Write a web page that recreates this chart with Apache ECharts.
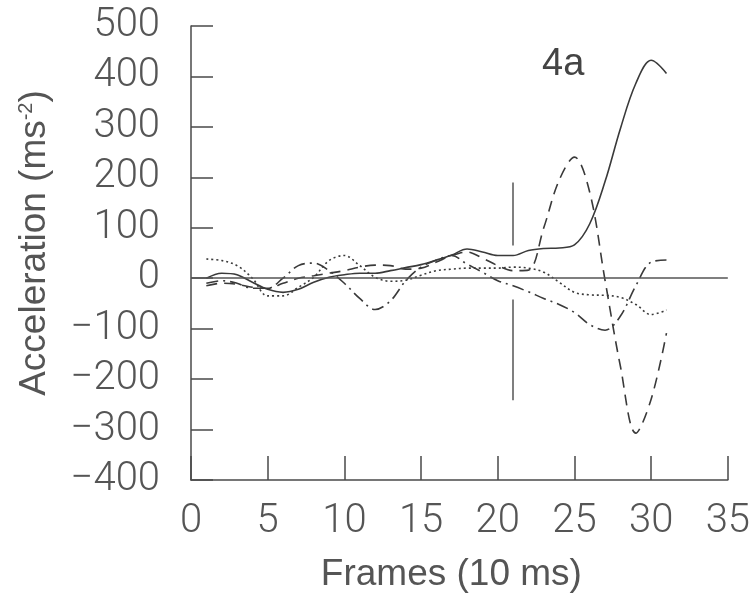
<!DOCTYPE html>
<html>
<head>
<meta charset="utf-8">
<script src="https://cdn.jsdelivr.net/npm/echarts@6/dist/echarts.min.js"></script>
<style>
html,body{margin:0;padding:0;background:#fff;}
#chart{width:753px;height:601px;}
</style>
</head>
<body>
<div id="chart"></div>
<script>
// ---- data ----
const frames = [1,2,3,4,5,6,7,8,9,10,11,12,13,14,15,16,17,18,19,20,21,22,23,24,25,26,27,28,29,30,31];
const solidSeries   = [0,10,7,-8,-22,-28,-22,-8,2,7,10,10,15,21,27,36,46,58,52,45,45,55,59,60,66,108,192,297,386,432,406];
const dashedSeries  = [-15,-10,-12,-18,-20,-10,0,5,10,15,22,26,25,18,20,32,45,52,40,25,15,16,100,194,240,170,-5,-175,-307,-240,-109];
const dashDotSeries = [-10,-5,-10,-20,-20,0,25,30,15,-10,-40,-62,-45,-5,22,36,45,28,12,-5,-15,-27,-40,-52,-68,-92,-103,-75,-15,32,36];
const dottedSeries  = [38,35,25,0,-35,-35,-18,2,35,45,25,2,-6,-4,6,15,18,20,20,20,22,20,12,-8,-28,-33,-34,-38,-52,-72,-63];
const markerFrame = 21;
const markerSegments = [[190, 65], [-42, -242]];
const xTicks = [0, 5, 10, 15, 20, 25, 30, 35];
const yTicks = [-400, -300, -200, -100, 0, 100, 200, 300, 400, 500];
const panelLabel = '4a';

const pairs = (ys) => frames.map((f, i) => [f, ys[i]]);
const lineCol = '#3a3a3a';
const axisCol = '#4a4a4a';

const chart = echarts.init(document.getElementById('chart'), null, {renderer: 'canvas'});
const mkSeries = (name, ys, type) => ({
  name, type: 'line', data: pairs(ys), symbol: 'none', smooth: 0.35,
  lineStyle: {color: lineCol, width: 1.6, type: type}, z: 3
});

chart.setOption({
  backgroundColor: '#ffffff',
  animation: false,
  title: {
    text: panelLabel, left: 537, top: 41,
    textStyle: {fontFamily: 'Liberation Sans', fontSize: 38, fontWeight: 'normal', color: '#444'}
  },
  grid: {left: 191, top: 26, right: 24, bottom: 121},
  xAxis: {
    type: 'value', min: xTicks[0], max: xTicks[xTicks.length - 1], interval: 5,
    name: 'Frames (10 ms)', nameLocation: 'middle', nameGap: 76,
    nameTextStyle: {fontFamily: 'Liberation Sans', fontSize: 37, color: '#555', padding: [0, 16, 0, 0]},
    axisLine: {show: true, onZero: false, lineStyle: {color: axisCol, width: 1.5}},
    axisTick: {show: true, inside: true, length: 24, lineStyle: {color: axisCol, width: 1.5}},
    axisLabel: {margin: 22, fontFamily: 'Roboto', fontWeight: 300, fontSize: 40, color: '#555'},
    splitLine: {show: false}
  },
  yAxis: {
    type: 'value', min: yTicks[0], max: yTicks[yTicks.length - 1], interval: 100,
    name: '{t|Acceleration (ms}{s|-2}{t|)}', nameLocation: 'middle', nameGap: 138, nameRotate: 90,
    nameTextStyle: {
      padding: [0, 0, 0, 20],
      rich: {
        t: {fontFamily: 'Liberation Sans', fontSize: 37, color: '#555'},
        s: {fontFamily: 'Liberation Sans', fontSize: 20, color: '#555', padding: [0, 0, 16, 0]}
      }
    },
    axisLine: {show: true, onZero: false, lineStyle: {color: axisCol, width: 1.5}},
    axisTick: {show: true, inside: true, length: 22, lineStyle: {color: axisCol, width: 1.5}},
    axisLabel: {
      margin: 31, fontFamily: 'Roboto', fontWeight: 300, fontSize: 40, color: '#555',
      formatter: (v) => String(v).replace('-', '\u2212')
    },
    splitLine: {show: false}
  },
  series: [
    Object.assign(mkSeries('solid', solidSeries, 'solid'), {
      markLine: {
        silent: true, symbol: 'none', label: {show: false},
        lineStyle: {color: '#555', width: 1.5, type: 'solid'},
        data: [
          {yAxis: 0},
          [{coord: [markerFrame, markerSegments[0][0]]}, {coord: [markerFrame, markerSegments[0][1]]}],
          [{coord: [markerFrame, markerSegments[1][0]]}, {coord: [markerFrame, markerSegments[1][1]]}]
        ]
      }
    }),
    mkSeries('dashed', dashedSeries, [11, 7]),
    mkSeries('dashdot', dashDotSeries, [12, 5, 2, 5]),
    mkSeries('dotted', dottedSeries, [2, 3])
  ]
});
</script>
</body>
</html>
